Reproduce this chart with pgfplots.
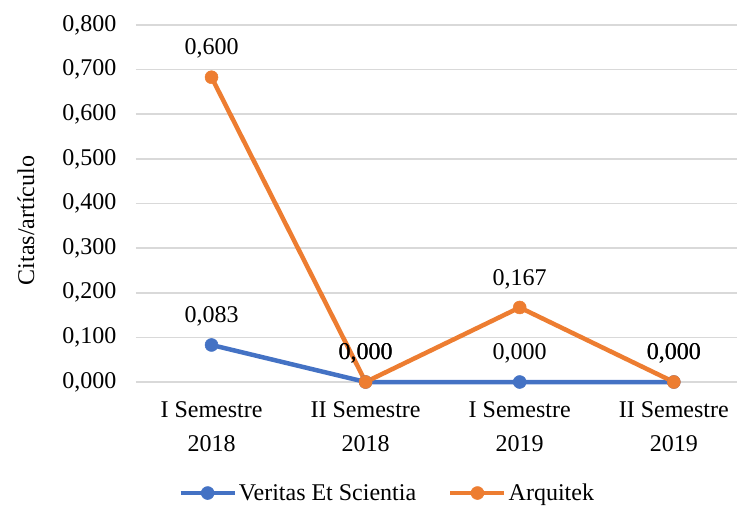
\documentclass[border=0pt]{standalone}
\usepackage{fontspec}
\setmainfont{Liberation Serif}
\usepackage{pgfplots}
\pgfplotsset{compat=1.18}
\usetikzlibrary{calc}

\definecolor{vblue}{HTML}{4472C4}
\definecolor{aorange}{HTML}{ED7D31}
\definecolor{gridgray}{HTML}{D9D9D9}

\begin{document}
\begin{tikzpicture}[font=\fontsize{24bp}{29bp}\selectfont]
\begin{axis}[
    scale only axis,
    width=601bp, height=357bp,
    xmin=-0.49, xmax=3.41,
    ymin=0, ymax=0.8,
    ytick={0,0.1,...,0.8},
    xtick={0,1,2,3},
    xticklabels={I Semestre\\2018, II Semestre\\2018, I Semestre\\2019, II Semestre\\2019},
    xticklabel style={align=center, yshift=-16bp, font=\fontsize{24bp}{34bp}\selectfont},
    yticklabel style={xshift=-16bp},
    /pgf/number format/.cd, fixed, fixed zerofill, precision=3, use comma, assume math mode=true,
    /pgfplots/.cd,
    axis line style={draw=none},
    major tick length=0,
    ymajorgrids,
    grid style={gridgray, line width=1.6bp},
    ylabel={Citas/artículo},
    every axis y label/.style={at={(rel axis cs:0,0.5)}, xshift=-110bp, yshift=-17bp, rotate=90, anchor=center},
    clip=false,
    legend columns=2,
    legend style={draw=none, fill=none, at={(rel axis cs:0.418,-0.311)}, anchor=center,
        nodes={inner sep=2bp},
        /tikz/every even column/.append style={column sep=30bp}},
    legend image code/.code={\draw[mark repeat=2,mark phase=2] plot coordinates {(0bp,0bp)(27bp,0bp)(54bp,0bp)};},
    nodes near coords,
    point meta=explicit symbolic,
    nodes near coords style={anchor=south, yshift=15bp, text=black},
]
\addplot[vblue, line width=4.5bp, mark=*, mark size=6.5bp, mark options={fill=vblue, line width=0.5bp}]
    coordinates {(0,0.083)[0,083] (1,0)[0,000] (2,0)[0,000] (3,0)[0,000]};
\addlegendentry{Veritas Et Scientia}
\addplot[aorange, line width=4.5bp, mark=*, mark size=6.5bp, mark options={fill=aorange, line width=0.5bp}]
    coordinates {(0,0.683)[0,600] (1,0)[0,000] (2,0.167)[0,167] (3,0)[0,000]};
\addlegendentry{Arquitek}
\end{axis}
\pgfresetboundingbox
\useasboundingbox ($(current axis.south west)+(-136bp,-129bp)$) rectangle +(737bp,511bp);
\end{tikzpicture}
\end{document}
